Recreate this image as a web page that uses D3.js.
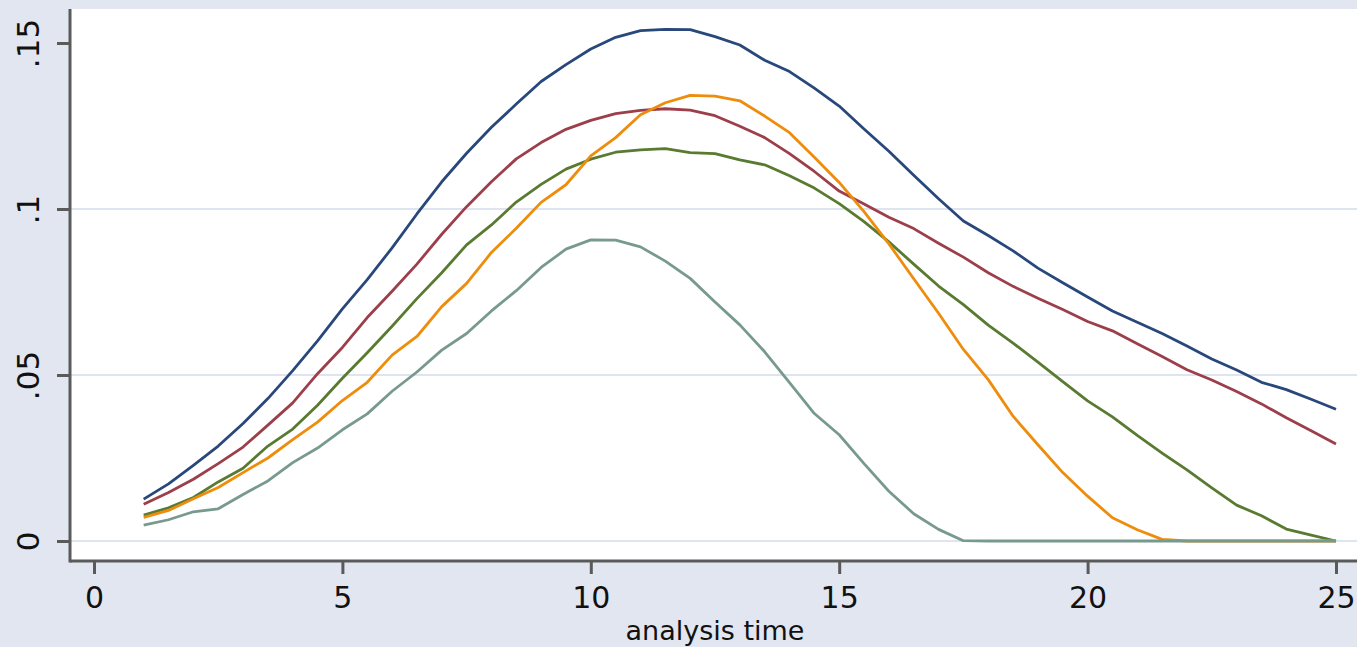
<!DOCTYPE html>
<html>
<head>
<meta charset="utf-8">
<script src="https://cdn.jsdelivr.net/npm/d3@7"></script>
<style>
  html, body { margin: 0; padding: 0; background: #e1e6f0; }
  svg { display: block; }
</style>
</head>
<body>
<div id="app"></div>
<script>
// analysis time, sampled every half unit
const times = [1, 1.5, 2, 2.5, 3, 3.5, 4, 4.5, 5, 5.5, 6, 6.5, 7, 7.5, 8, 8.5, 9, 9.5,
  10, 10.5, 11, 11.5, 12, 12.5, 13, 13.5, 14, 14.5, 15, 15.5, 16, 16.5, 17, 17.5,
  18, 18.5, 19, 19.5, 20, 20.5, 21, 21.5, 22, 22.5, 23, 23.5, 24, 24.5, 25];

const navySeries = [.0126, .0172, .0228, .0286, .0354, .0429, .0513, .0603, .0699, .0787,
  .0883, .0985, .1082, .1168, .1246, .1316, .1384, .1435, .1482, .1517, .1537, .1541,
  .1540, .1519, .1494, .1448, .1414, .1364, .1310, .1241, .1174, .1102, .1031, .0964,
  .0920, .0874, .0822, .0778, .0735, .0693, .0659, .0625, .0587, .0548, .0515, .0478,
  .0456, .0427, .0397];

const maroonSeries = [.0111, .0146, .0186, .0233, .0283, .0349, .0416, .0504, .0583, .0673,
  .0752, .0834, .0924, .1007, .1082, .1151, .1200, .1240, .1267, .1287, .1297, .1302,
  .1298, .1281, .1249, .1215, .1167, .1113, .1054, .1015, .0975, .0941, .0897, .0855,
  .0808, .0767, .0731, .0697, .0661, .0633, .0594, .0556, .0516, .0485, .0450, .0413,
  .0371, .0332, .0292];

const greenSeries = [.0078, .0100, .0131, .0178, .0219, .0286, .0337, .0409, .0490, .0567,
  .0647, .0730, .0808, .0892, .0952, .1021, .1074, .1120, .1150, .1171, .1178, .1182,
  .1170, .1167, .1148, .1133, .1100, .1063, .1016, .0962, .0901, .0834, .0768, .0712,
  .0650, .0596, .0539, .0480, .0422, .0374, .0318, .0265, .0214, .0160, .0108, .0076,
  .0036, .0018, 0];

const orangeSeries = [.0071, .0092, .0127, .0161, .0206, .0250, .0305, .0358, .0423, .0478,
  .0560, .0616, .0706, .0776, .0869, .0942, .1020, .1073, .1160, .1215, .1284, .1320,
  .1342, .1340, .1326, .1280, .1230, .1156, .1080, .0992, .0895, .0790, .0686, .0577,
  .0486, .0376, .0290, .0206, .0135, .0070, .0034, .0005, 0, 0, 0, 0,
  0, 0, 0];

const tealSeries = [.0048, .0064, .0088, .0097, .0140, .0181, .0236, .0280, .0335, .0383,
  .0451, .0509, .0575, .0625, .0693, .0754, .0824, .0879, .0907, .0906, .0886, .0843,
  .0791, .0720, .0651, .0570, .0477, .0384, .0320, .0233, .0150, .0082, .0035, .0001,
  0, 0, 0, 0, 0, 0, 0, 0, 0, 0, 0, 0,
  0, 0, 0];

const xTicks = [0, 5, 10, 15, 20, 25];
const yTicks = [0, 0.05, 0.1, 0.15];
const yTickLabels = ['0', '.05', '.1', '.15'];
const gridValues = [0, 0.05, 0.1];

// drawing order matches the original (teal last, on top)
const series = [
  { values: navySeries, color: '#28487c' },
  { values: maroonSeries, color: '#9c3f4a' },
  { values: greenSeries, color: '#587a31' },
  { values: orangeSeries, color: '#ee8c0c' },
  { values: tealSeries, color: '#789a8e' },
];

const width = 1357;
const height = 647;
const plot = { left: 70, top: 9, right: 1357, bottom: 561 };

const svg = d3.select('#app').append('svg')
  .attr('width', width)
  .attr('height', height);

svg.append('rect')
  .attr('width', width)
  .attr('height', height)
  .attr('fill', '#e1e6f0');

svg.append('rect')
  .attr('x', plot.left)
  .attr('y', plot.top)
  .attr('width', plot.right - plot.left)
  .attr('height', plot.bottom - plot.top)
  .attr('fill', '#ffffff');

const xScale = d3.scaleLinear().domain([0, 25]).range([94, 1336]);
const yScale = d3.scaleLinear().domain([0, 0.15]).range([541, 43]);

// grid lines
svg.append('g')
  .selectAll('line')
  .data(gridValues)
  .enter()
  .append('line')
  .attr('x1', plot.left)
  .attr('x2', plot.right)
  .attr('y1', d => yScale(d))
  .attr('y2', d => yScale(d))
  .attr('stroke', '#dfe5f0')
  .attr('stroke-width', 2);

// curves
const lineFunc = d3.line()
  .x((d, i) => xScale(times[i]))
  .y(d => yScale(d));

svg.append('g')
  .selectAll('path')
  .data(series)
  .enter()
  .append('path')
  .attr('d', d => lineFunc(d.values))
  .attr('fill', 'none')
  .attr('stroke', d => d.color)
  .attr('stroke-width', 2.8)
  .attr('stroke-linejoin', 'round');

// axes
const axisColor = '#5a5a5a';
const fontFamily = '"DejaVu Sans", Verdana, sans-serif';

const xAxis = d3.axisBottom(xScale)
  .tickValues(xTicks)
  .tickSize(13)
  .tickPadding(13)
  .tickFormat(d3.format('d'));

const xAxisGroup = svg.append('g')
  .attr('transform', `translate(0, ${plot.bottom})`)
  .call(xAxis);

xAxisGroup.select('.domain')
  .attr('d', `M${plot.left},0H${plot.right}`)
  .attr('stroke', axisColor)
  .attr('stroke-width', 3);

xAxisGroup.selectAll('.tick line')
  .attr('stroke', axisColor)
  .attr('stroke-width', 3);

xAxisGroup.selectAll('.tick text')
  .attr('fill', '#111')
  .style('font-family', fontFamily)
  .style('font-size', '30px');

const yAxis = d3.axisLeft(yScale)
  .tickValues(yTicks)
  .tickSize(13)
  .tickFormat((d, i) => yTickLabels[i]);

const yAxisGroup = svg.append('g')
  .attr('transform', `translate(${plot.left}, 0)`)
  .call(yAxis);

yAxisGroup.select('.domain')
  .attr('d', `M0,${plot.top}V${plot.bottom + 1.5}`)
  .attr('stroke', axisColor)
  .attr('stroke-width', 3);

yAxisGroup.selectAll('.tick line')
  .attr('stroke', axisColor)
  .attr('stroke-width', 3);

// rotated tick labels as in the original
yAxisGroup.selectAll('.tick text')
  .attr('x', null)
  .attr('dy', null)
  .attr('transform', 'translate(-31, 0) rotate(-90)')
  .attr('text-anchor', 'middle')
  .attr('fill', '#111')
  .style('font-family', fontFamily)
  .style('font-size', '31px');

// axis title
svg.append('text')
  .attr('x', xScale(12.5))
  .attr('y', 640)
  .attr('text-anchor', 'middle')
  .attr('fill', '#111')
  .style('font-family', fontFamily)
  .style('font-size', '27px')
  .text('analysis time');
</script>
</body>
</html>
